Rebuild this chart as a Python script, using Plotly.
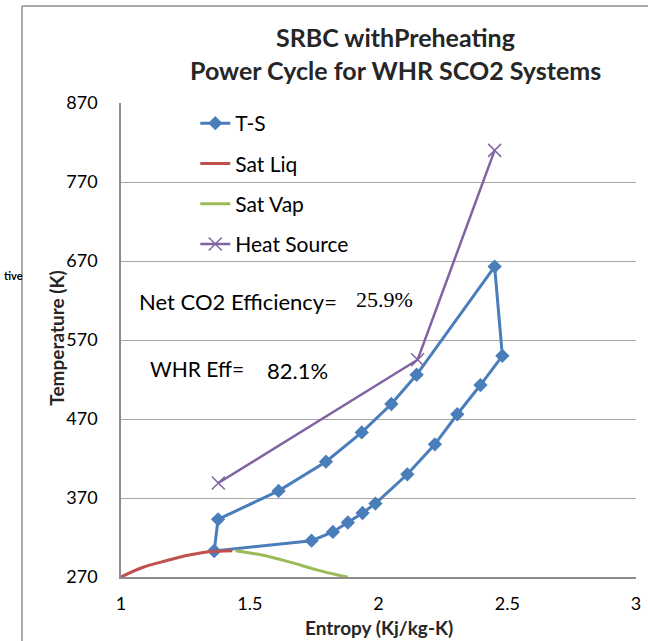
import plotly.graph_objects as go

# ---- data ----
ts_entropy = [1.362, 1.377, 1.612, 1.796, 1.935, 2.050, 2.148, 2.451, 2.481, 2.396,
              2.306, 2.219, 2.112, 1.988, 1.938, 1.881, 1.823, 1.740, 1.362]
ts_temp = [303, 343, 379, 416, 453, 489, 526, 663, 550, 513,
           476, 438, 400, 363, 351, 339, 327, 316, 303]

satliq_entropy = [1.000, 1.086, 1.176, 1.265, 1.342, 1.432]
satliq_temp = [270.0, 282.3, 290.6, 297.8, 302.0, 303.3]

satvap_entropy = [1.445, 1.547, 1.650, 1.753, 1.842, 1.880]
satvap_temp = [303.3, 297.8, 289.4, 279.7, 272.5, 270.0]

heat_entropy = [1.378, 2.152, 2.451]
heat_temp = [389, 545, 810]

x_ticks = [1, 1.5, 2, 2.5, 3]
y_ticks = [270, 370, 470, 570, 670, 770, 870]

title_lines = ["SRBC withPreheating", "Power Cycle for WHR SCO2 Systems"]
net_eff_label, net_eff_value = "Net CO2 Efficiency=", "25.9%"
whr_eff_label, whr_eff_value = "WHR Eff=", "82.1%"

FONT = "Lato"
W, H = 648, 641
L, R, T, B = 121, 7, 103, 64
PW, PH = W - L - R, H - T - B


def px(xp):
    return (xp - L) / PW


def py(yp):
    return (H - B - yp) / PH


fig = go.Figure()
fig.add_trace(go.Scatter(x=ts_entropy, y=ts_temp, name="T-S", mode="lines+markers",
                         line=dict(color="#4A7EBB", width=3),
                         marker=dict(symbol="diamond", size=11, color="#4A7EBB"),
                         legendgroup="a"))
fig.add_trace(go.Scatter(x=satliq_entropy, y=satliq_temp, name="Sat Liq", mode="lines",
                         line=dict(color="#C0504D", width=3, shape="spline"),
                         legendgroup="b"))
fig.add_trace(go.Scatter(x=satvap_entropy, y=satvap_temp, name="Sat Vap", mode="lines",
                         line=dict(color="#9BBB59", width=3, shape="spline"),
                         legendgroup="c"))
fig.add_trace(go.Scatter(x=heat_entropy, y=heat_temp, name="Heat Source", mode="lines+markers",
                         line=dict(color="#8064A2", width=2.5),
                         marker=dict(symbol="x-thin-open", size=13,
                                     line=dict(color="#8064A2", width=1.5)),
                         legendgroup="d"))

annotations = [
    dict(text=title_lines[0], x=px(398), y=py(37)),
    dict(text=title_lines[1], x=px(398), y=py(70)),
]
for a in annotations:
    a.update(xref="paper", yref="paper", showarrow=False, xanchor="center", yanchor="middle",
             font=dict(family=FONT, size=25, color="#262626", weight="bold"))

annotations += [
    dict(text=net_eff_label, x=px(137), y=py(301), xanchor="left",
         font=dict(family=FONT, size=22, color="#000")),
    dict(text=net_eff_value, x=px(356), y=py(299), xanchor="left",
         font=dict(family="Liberation Serif", size=22, color="#000")),
    dict(text=whr_eff_label, x=px(148), y=py(368), xanchor="left",
         font=dict(family=FONT, size=21, color="#000")),
    dict(text=whr_eff_value, x=px(266), y=py(370), xanchor="left",
         font=dict(family=FONT, size=22, color="#000")),
    dict(text="Temperature (K)", x=px(55), y=py(338), textangle=-90, xanchor="center",
         font=dict(family=FONT, size=19, color="#262626", weight="bold")),
    dict(text="Entropy (Kj/kg-K)", x=px(382), y=py(627), xanchor="center",
         font=dict(family=FONT, size=19, color="#262626", weight="bold")),
    dict(text="tive", x=px(1), y=py(275), xanchor="left",
         font=dict(family=FONT, size=11, color="#000", weight="bold")),
]
for a in annotations[2:]:
    a.setdefault("xref", "paper")
    a.setdefault("yref", "paper")
    a.setdefault("showarrow", False)
    a.setdefault("yanchor", "middle")

shapes = [
    dict(type="line", xref="paper", yref="paper", x0=px(21), x1=px(21), y0=py(6), y1=py(700),
         line=dict(color="#8C8C8C", width=1.5)),
    dict(type="line", xref="paper", yref="paper", x0=px(21), x1=px(700), y0=py(6), y1=py(6),
         line=dict(color="#8C8C8C", width=1.5)),
]

fig.update_layout(
    width=W, height=H,
    margin=dict(l=L, r=R, t=T, b=B),
    paper_bgcolor="white", plot_bgcolor="white",
    showlegend=True,
    legend=dict(x=px(196), y=py(103), xanchor="left", yanchor="top",
                bgcolor="rgba(0,0,0,0)", traceorder="grouped", tracegroupgap=10,
                font=dict(family=FONT, size=21, color="#000")),
    annotations=annotations,
    shapes=shapes,
    font=dict(family=FONT),
)
fig.update_xaxes(range=[1, 3], tickvals=x_ticks, ticktext=[str(v) for v in x_ticks],
                 showgrid=False, zeroline=False, showline=True, linecolor="#8C8C8C", linewidth=1.5,
                 ticks="", ticklabelstandoff=10,
                 tickfont=dict(family=FONT, size=18, color="#000"))
fig.update_yaxes(range=[270, 870], tickvals=y_ticks, ticktext=[str(v) for v in y_ticks],
                 showgrid=True, gridcolor="#A6A6A6", gridwidth=1.2, zeroline=False,
                 showline=True, linecolor="#8C8C8C", linewidth=1.5,
                 ticks="", ticklabelstandoff=18,
                 tickfont=dict(family=FONT, size=18, color="#000"))

fig.write_html("out.html")
